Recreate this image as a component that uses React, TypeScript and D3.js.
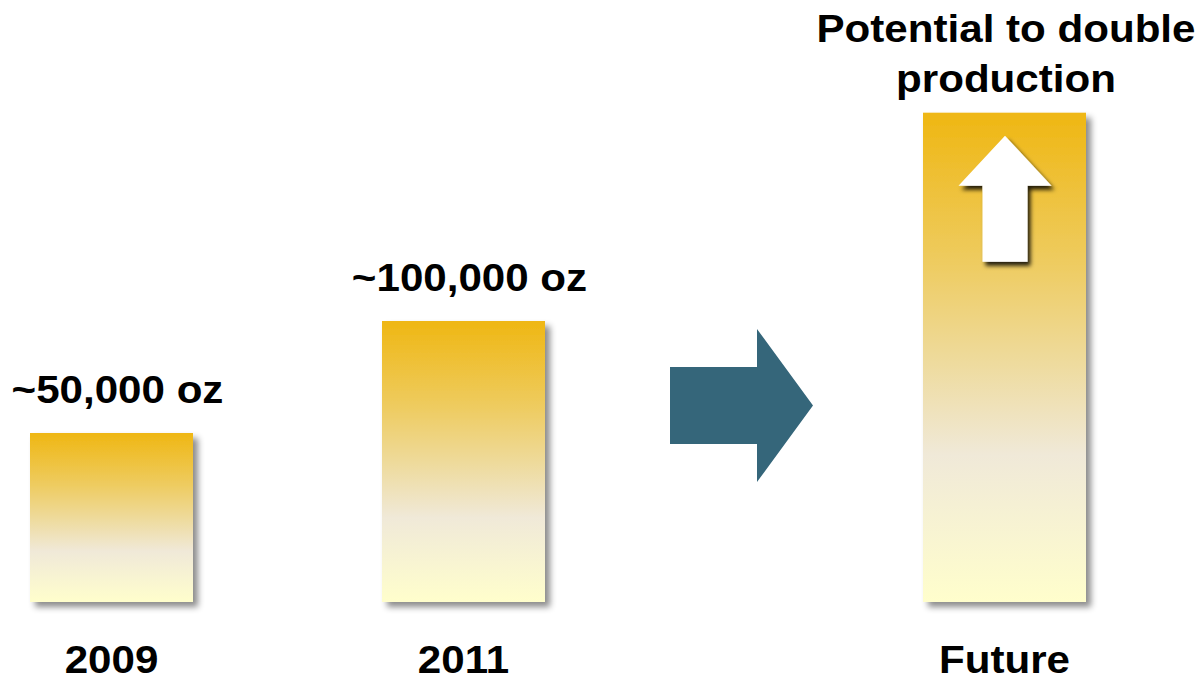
import React, { useEffect } from "react";
import * as d3 from "d3";

const categories = ["2009", "2011", "Future"];
const values = [50000, 100000, 193000];
const valueLabels = ["~50,000 oz", "~100,000 oz", ""];
const titleLines = ["Potential to double", "production"];

const W = 1201;
const H = 681;
const BASE = 602;
const BAR_W = 163;
const FONT = "'Liberation Sans', Arial, Helvetica, sans-serif";
const FS = 39;
const SX = 1.08;

export default function App() {
  useEffect(() => {
    document.body.style.margin = "0";
  }, []);

  const x = d3.scaleOrdinal<string, number>().domain(categories).range([30, 382, 923]);
  const y = d3.scaleLinear().domain([0, 100000]).range([545, 321]);

  const future = categories[2];
  const fx = x(future);
  const fTop = y(values[2]);
  const cx = fx + BAR_W / 2 + 0.5;
  const up = d3.path();
  up.moveTo(cx, fTop + 23);
  up.lineTo(cx + 46.5, fTop + 73);
  up.lineTo(cx + 22.5, fTop + 73);
  up.lineTo(cx + 22.5, fTop + 149);
  up.lineTo(cx - 22.5, fTop + 149);
  up.lineTo(cx - 22.5, fTop + 73);
  up.lineTo(cx - 46.5, fTop + 73);
  up.closePath();

  const right = d3.path();
  right.moveTo(670, 367);
  right.lineTo(757, 367);
  right.lineTo(757, 329);
  right.lineTo(813, 405.5);
  right.lineTo(757, 482);
  right.lineTo(757, 444);
  right.lineTo(670, 444);
  right.closePath();

  const label = (txt: string, px: number, py: number, key: string) => (
    <text
      key={key}
      transform={`translate(${px},${py}) scale(${SX},1)`}
      textAnchor="middle"
      fontFamily={FONT}
      fontWeight="bold"
      fontSize={FS}
      fill="#000"
    >
      {txt}
    </text>
  );

  return (
    <svg width={W} height={H} style={{ display: "block" }}>
      <defs>
        <linearGradient id="gold" x1="0" y1="0" x2="0" y2="1">
          <stop offset="0" stopColor="#EFB713" />
          <stop offset="0.3" stopColor="#EECB5E" />
          <stop offset="0.5" stopColor="#EEDA9A" />
          <stop offset="0.7" stopColor="#F0E9D8" />
          <stop offset="1" stopColor="#FFFECC" />
        </linearGradient>
        <filter id="barShadow" x="-10%" y="-10%" width="130%" height="130%">
          <feDropShadow dx="5" dy="5" stdDeviation="3" floodColor="#000" floodOpacity="0.45" />
        </filter>
        <filter id="arrowShadow" x="-20%" y="-20%" width="150%" height="150%">
          <feDropShadow dx="3" dy="4" stdDeviation="2" floodColor="#000" floodOpacity="0.85" />
        </filter>
      </defs>
      <rect width={W} height={H} fill="#fff" />
      {categories.map((c, i) => (
        <rect
          key={c}
          x={x(c)}
          y={y(values[i])}
          width={BAR_W}
          height={BASE - y(values[i])}
          fill="url(#gold)"
          filter="url(#barShadow)"
        />
      ))}
      <path d={up.toString()} fill="#fff" filter="url(#arrowShadow)" />
      <path d={right.toString()} fill="#35667A" />
      {categories.map((c, i) =>
        valueLabels[i] ? label(valueLabels[i], x(c) + BAR_W / 2 + 6, y(values[i]) - 30, "v" + c) : null
      )}
      {categories.map((c) => label(c, x(c) + BAR_W / 2, 673, "c" + c))}
      {titleLines.map((t, i) => label(t, cx + 1, 42 + i * 50, "t" + i))}
    </svg>
  );
}
